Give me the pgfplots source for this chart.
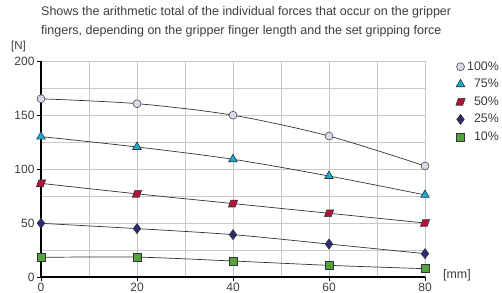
\documentclass[border=0pt]{standalone}
\usepackage{pgfplots}
\pgfplotsset{compat=1.18}
\usepackage{fontspec}
\setmainfont{Liberation Sans}
\definecolor{txt}{HTML}{3C3C3C}
\definecolor{gridc}{HTML}{C8C8C8}
\definecolor{cA}{HTML}{D8D8E6}
\definecolor{cB}{HTML}{1CA9D2}
\definecolor{cC}{HTML}{B5123A}
\definecolor{cD}{HTML}{2B2B72}
\definecolor{cE}{HTML}{4FA43C}
\begin{document}
\begin{tikzpicture}
\useasboundingbox (0pt,0pt) rectangle (502pt,292pt);
\node[anchor=north west, align=left, text=txt, font=\fontsize{12.5}{19}\selectfont, inner sep=0pt] at (41pt,286pt) {Shows the arithmetic total of the individual forces that occur on the gripper\\fingers, depending on the gripper finger length and the set gripping force};
\begin{axis}[
  at={(41pt,15pt)}, anchor=south west,
  width=384pt, height=216pt, scale only axis,
  xmin=0, xmax=80, ymin=0, ymax=200,
  axis lines=left, axis line style={-, black, line width=1.1pt},
  xtick={0,20,...,80}, minor xtick={10,30,50,70},
  ytick={0,50,...,200}, minor ytick={25,75,...,175},
  grid=both, grid style={gridc, line width=0.9pt},
  major grid style={gridc, line width=0.9pt}, minor grid style={gridc, line width=0.9pt},
  tick align=outside, major tick length=4pt, minor tick length=0pt,
  tick style={black, line width=0.8pt},
  ticklabel style={text=txt, font=\fontsize{12}{14}\selectfont},
  /pgf/number format/assume math mode=true,
  yticklabel style={xshift=1pt},
  xticklabel style={yshift=1pt},
  clip=false,
  legend image code/.code={\path plot coordinates {(0pt,0pt)};},
  legend style={at={(1.080,1.007)}, anchor=north west, draw=none, fill=none,
     font=\fontsize{12.4}{13}\selectfont, text=txt, row sep=3.4pt, inner sep=0pt,
     /tikz/every even column/.append style={column sep=1pt}},
  legend cell align=right,
  every axis plot/.append style={smooth, tension=0.5, line width=0.7pt, color=black!80},
]
\addplot[mark=*, mark size=4pt, mark options={fill=cA, draw=black!70, line width=0.6pt}] coordinates {(0,165) (20,160.5) (40,149.8) (60,130.5) (80,102.8)};
\addlegendentry{100\%}
\addplot[mark=triangle*, mark size=5pt, mark options={fill=cB, draw=black!80, line width=0.6pt}] coordinates {(0,130) (20,120.4) (40,109) (60,93.5) (80,76)};
\addlegendentry{75\%}
\addplot[mark=square*, mark size=3.4pt, mark options={fill=cC, draw=black!80, line width=0.6pt, xslant=0.35}] coordinates {(0,86.7) (20,77) (40,68) (60,59) (80,50)};
\addlegendentry{50\%}
\addplot[mark=diamond*, mark size=5pt, mark options={fill=cD, draw=black!80, line width=0.6pt}] coordinates {(0,49.7) (20,44.8) (40,39.2) (60,30.5) (80,21.6)};
\addlegendentry{25\%}
\addplot[mark=square*, mark size=4pt, mark options={fill=cE, draw=black!80, line width=0.6pt}] coordinates {(0,18.2) (20,18.4) (40,14.8) (60,10.8) (80,7.7)};
\addlegendentry{10\%}
\end{axis}
\node[anchor=west, text=txt, font=\fontsize{11.5}{12}\selectfont, inner sep=0pt] at (11pt,245pt) {[N]};
\node[anchor=west, text=txt, font=\fontsize{12.4}{13}\selectfont, inner sep=0pt] at (443pt,17pt) {[mm]};
\end{tikzpicture}
\end{document}
